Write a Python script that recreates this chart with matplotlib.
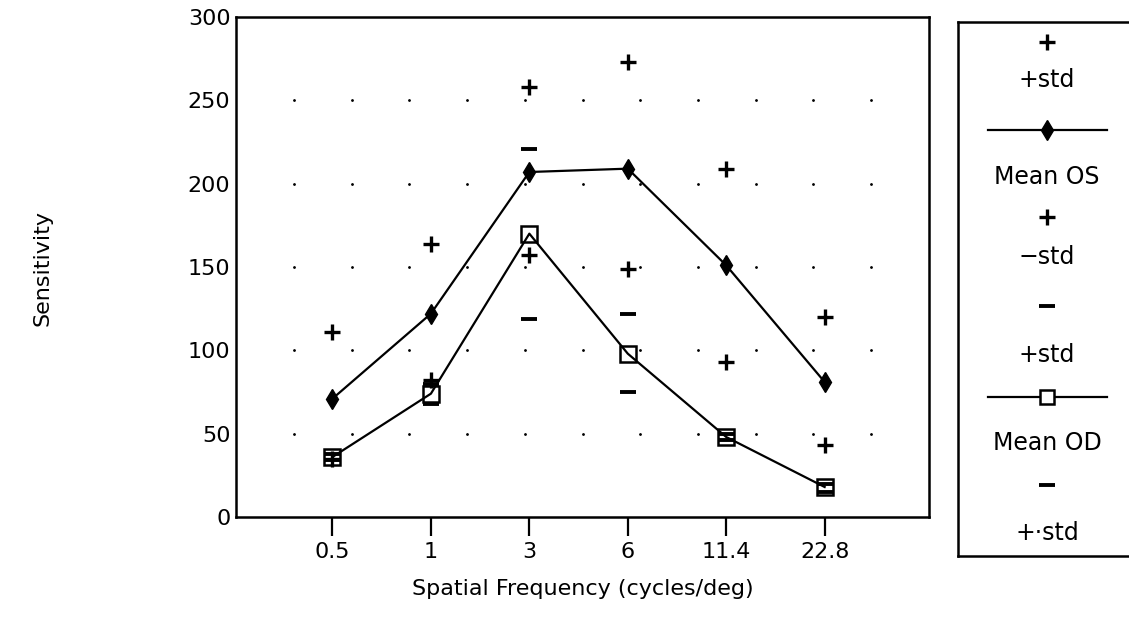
import numpy as np
import matplotlib.pyplot as plt
from matplotlib.lines import Line2D

freq_labels = ['0.5', '1', '3', '6', '11.4', '22.8']

mean_os = [71, 122, 207, 209, 151, 81]
os_plus = [111, 164, 258, 273, 209, 120]
os_minus = [35, 82, 157, 149, 93, 43]

mean_od = [36, 74, 170, 98, 48, 18]
od_plus = [38, 80, 221, 122, 50, 20]
od_minus = [34, 68, 119, 75, 46, 15]

plt.rcParams['font.family'] = ['DejaVu Sans']
fig = plt.figure(figsize=(11.29, 6.35), dpi=100)
ax = fig.add_axes([236/1129, 118/635, 693/1129, 500/635])

x = np.arange(1, len(freq_labels) + 1)

# dotted background grid
for gy in [50, 100, 150, 200, 250]:
    for gx in np.arange(1, 12) / 12:
        ax.plot(gx, gy, marker='.', ms=2, color='black',
                transform=ax.get_yaxis_transform(), clip_on=False)

ax.plot(x, os_plus, ls='none', marker='+', ms=12, mew=2.4, color='black')
ax.plot(x, os_minus, ls='none', marker='+', ms=12, mew=2.4, color='black')
ax.plot(x, od_plus, ls='none', marker='_', ms=11, mew=2.8, color='black')
ax.plot(x, od_minus, ls='none', marker='_', ms=11, mew=2.8, color='black')
ax.plot(x, mean_os, color='black', lw=1.6, marker='d', ms=10,
        mfc='black', mec='black')
ax.plot(x, mean_od, color='black', lw=1.6, marker='s', ms=11,
        mfc='none', mec='black', mew=1.8)

ax.set_xlim(0.02, 7.06)
ax.set_ylim(0, 300)
ax.set_xticks(x)
ax.set_xticklabels(freq_labels)
ax.set_yticks([0, 50, 100, 150, 200, 250, 300])
ax.tick_params(axis='x', direction='out', length=14, width=1.6, labelsize=16, pad=4)
ax.tick_params(axis='y', length=0, labelsize=16, pad=4)
for s in ax.spines.values():
    s.set_linewidth(1.8)

ax.set_xlabel('Spatial Frequency (cycles/deg)', fontsize=16, labelpad=12)
fig.text(42/1129, 1 - 268/635, 'Sensitivity', rotation=90, fontsize=16,
         ha='center', va='center')

# stacked legend box at right
lg = fig.add_axes([958/1129, 79/635, 200/1129, 534/635])
lg.set_xlim(0, 1)
lg.set_ylim(0, 1)
lg.set_xticks([])
lg.set_yticks([])
for s in lg.spines.values():
    s.set_linewidth(1.8)
lg.spines['right'].set_visible(False)

cx = 0.445
fs = 17
lg.plot(cx, 0.963, marker='+', ms=12, mew=2.4, color='black')
lg.text(cx, 0.891, '+std', fontsize=fs, ha='center', va='center')
lg.add_line(Line2D([0.15, 0.745], [0.798, 0.798], color='black', lw=1.6))
lg.plot(cx, 0.798, marker='d', ms=10, color='black')
lg.text(cx, 0.710, 'Mean OS', fontsize=fs, ha='center', va='center')
lg.plot(cx, 0.635, marker='+', ms=12, mew=2.4, color='black')
lg.text(cx, 0.560, '\u2212std', fontsize=fs, ha='center', va='center')
lg.plot(cx, 0.468, marker='_', ms=11, mew=2.8, color='black')
lg.text(cx, 0.376, '+std', fontsize=fs, ha='center', va='center')
lg.add_line(Line2D([0.15, 0.745], [0.298, 0.298], color='black', lw=1.6))
lg.plot(cx, 0.298, marker='s', ms=10, mfc='white', mec='black', mew=1.8)
lg.text(cx, 0.212, 'Mean OD', fontsize=fs, ha='center', va='center')
lg.plot(cx, 0.133, marker='_', ms=11, mew=2.8, color='black')
lg.text(cx, 0.043, '+\u00b7std', fontsize=fs, ha='center', va='center')

fig.savefig('out.png', dpi=100)
